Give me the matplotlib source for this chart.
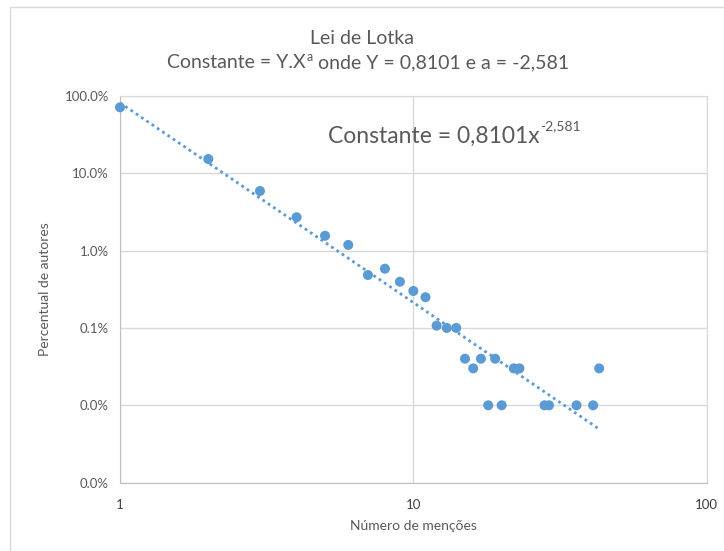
import matplotlib
matplotlib.use("Agg")
from matplotlib import pyplot as plt
from matplotlib.ticker import FixedLocator, FuncFormatter, NullLocator
from matplotlib.patches import Rectangle
import numpy as np

plt.rcParams["font.family"] = ["Lato", "DejaVu Sans"]

# frequência de menções x percentual de autores (fração)
mencoes = [1, 2, 3, 4, 5, 6, 7, 8, 9, 10, 11, 12, 13, 14, 15, 16, 17, 18,
           19, 20, 22, 23, 28, 29, 36, 41, 43]
percentual = [0.708, 0.152, 0.0587, 0.0269, 0.0155, 0.0118, 0.00482,
              0.00582, 0.00395, 0.0030, 0.00249, 0.00107, 0.0010, 0.0010,
              0.0004, 0.0003, 0.0004, 0.0001, 0.0004, 0.0001, 0.0003,
              0.0003, 0.0001, 0.0001, 0.0001, 0.0001, 0.0003]

# constantes do ajuste de potência (linha de tendência)
coef_y = 0.8101
expoente_a = -2.581

x_ticks = [1, 10, 100]
y_ticks = [1e-5, 1e-4, 1e-3, 1e-2, 1e-1, 1]

azul = "#5B9BD5"
cinza_txt = "#595959"
cinza_grade = "#D9D9D9"

fig = plt.figure(figsize=(7.24, 5.51), dpi=100)
fig.patches.append(Rectangle((10 / 724, -0.1), 1.2, (1 - 7 / 551) + 0.1,
                             transform=fig.transFigure, fill=False,
                             edgecolor=cinza_grade, linewidth=1.0))
ax = fig.add_axes([120 / 724, 1 - 482.7 / 551,
                   (706.7 - 120) / 724, (482.7 - 95.7) / 551])

ax.set_xscale("log")
ax.set_yscale("log")
ax.set_xlim(1, 100)
ax.set_ylim(1e-5, 1)

xs = np.geomspace(min(mencoes), max(mencoes), 100)
ax.plot(xs, coef_y * xs ** expoente_a, linestyle=(0, (1, 1.3)),
        color=azul, linewidth=2.0, zorder=2)
ax.scatter(mencoes, percentual, s=52, color=azul, zorder=3,
           edgecolors="none", clip_on=False)

ax.xaxis.set_major_locator(FixedLocator(x_ticks))
ax.xaxis.set_minor_locator(NullLocator())
ax.xaxis.set_major_formatter(FuncFormatter(lambda v, p: f"{v:g}"))
ax.yaxis.set_major_locator(FixedLocator(y_ticks))
ax.yaxis.set_minor_locator(NullLocator())
ax.yaxis.set_major_formatter(FuncFormatter(lambda v, p: f"{v * 100:.1f}%"))

ax.grid(True, which="major", color=cinza_grade, linewidth=1.0)
ax.set_axisbelow(True)
for side in ["left", "bottom"]:
    ax.spines[side].set_color("#BFBFBF")
for side in ["top", "right"]:
    ax.spines[side].set_color(cinza_grade)
ax.tick_params(length=0, labelsize=9.5, colors=cinza_txt, pad=8)
ax.tick_params(axis="x", pad=12, labelcolor="#404040")

ax.set_xlabel("Número de menções", fontsize=10, color=cinza_txt, labelpad=6)
ax.set_ylabel("Percentual de autores", fontsize=10, color=cinza_txt,
              labelpad=10)

fig.text(0.5, 1 - 38 / 551, "Lei de Lotka", ha="center", va="center",
         fontsize=14, color=cinza_txt)

# subtítulo com expoente "a" sobrescrito
sub1 = ax.annotate("Constante = Y.X", xy=(167 / 724, 1 - 63 / 551),
                   xycoords="figure fraction", ha="left", va="center",
                   fontsize=14, color=cinza_txt, annotation_clip=False)
sup1 = ax.annotate("a", xy=(1, 1), xycoords=sub1, xytext=(1, 2.5),
                   textcoords="offset points", ha="left", va="top",
                   fontsize=9, color=cinza_txt, annotation_clip=False)
ax.annotate(" onde Y = 0,8101 e a = -2,581", xy=(1, 0), xycoords=(sup1, sub1),
            ha="left", va="bottom", fontsize=14, color=cinza_txt,
            annotation_clip=False)

# rótulo da linha de tendência
rot = ax.annotate("Constante = 0,8101x", xy=(328 / 724, 1 - 136 / 551),
                  xycoords="figure fraction", ha="left", va="center",
                  fontsize=16.5, color=cinza_txt, annotation_clip=False)
ax.annotate("-2,581", xy=(1, 1), xycoords=rot, xytext=(0.5, 4),
            textcoords="offset points", ha="left", va="top",
            fontsize=10, color=cinza_txt, annotation_clip=False)

fig.savefig("out.png", dpi=100)
